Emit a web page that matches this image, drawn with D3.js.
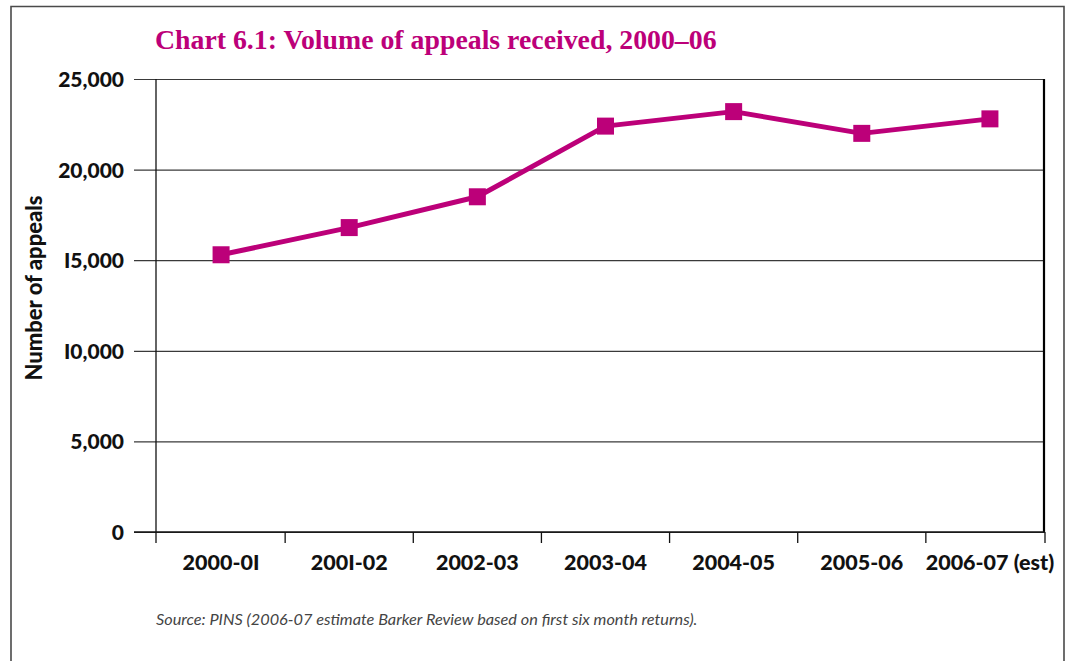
<!DOCTYPE html>
<html>
<head>
<meta charset="utf-8">
<script src="https://cdn.jsdelivr.net/npm/d3@7"></script>
<style>
  html, body { margin: 0; padding: 0; background: #fff; }
  svg { display: block; }
</style>
</head>
<body>
<svg id="chart" width="1070" height="661"></svg>
<script>
const categories = ["2000-01", "2001-02", "2002-03", "2003-04", "2004-05", "2005-06", "2006-07 (est)"];
const categoryLabels = ["2000-0I", "200I-02", "2002-03", "2003-04", "2004-05", "2005-06", "2006-07 (est)"];
const appeals = [15300, 16800, 18500, 22400, 23200, 22000, 22800];
const yTicks = [0, 5000, 10000, 15000, 20000, 25000];
const yTickLabels = ["0", "5,000", "I0,000", "I5,000", "20,000", "25,000"];
const titleText = "Chart 6.1: Volume of appeals received, 2000–06";
const yAxisTitle = "Number of appeals";
const sourceText = "Source: PINS (2006-07 estimate Barker Review based on first six month returns).";

const svg = d3.select("#chart");
const magenta = "#BC0079";
const m = { left: 156, right: 1045, top: 79, bottom: 532 };
const labelFont = "Lato, 'Open Sans', sans-serif";

// frame
svg.append("path")
  .attr("d", `M11,661 L11,6.5 L1064,6.5 L1064,661`)
  .attr("fill", "none").attr("stroke", "#4a4a4a").attr("stroke-width", 1.6);

// category band scale (the last band runs past the right axis, as in the original)
const x = d3.scaleBand().domain(categories).range([157, 1054]).paddingInner(0).paddingOuter(0);
const y = d3.scaleLinear().domain([0, 25000]).range([m.bottom, m.top]);

// gridlines + y ticks
const gy = svg.append("g").attr("transform", `translate(${m.right},0)`).call(
  d3.axisLeft(y).tickValues(yTicks).tickSize(m.right - 134).tickFormat(d => yTickLabels[yTicks.indexOf(d)])
);
gy.select(".domain").remove();
gy.selectAll(".tick line").attr("stroke", "#3a3a3a").attr("stroke-width", 1.2);
gy.selectAll(".tick text")
  .attr("x", -(m.right - 134) - 10)
  .attr("dy", "0.36em")
  .style("font-family", labelFont)
  .style("font-weight", "900")
  .style("font-size", "21px")
  .style("fill", "#111");

// left axis line
svg.append("line").attr("x1", m.left).attr("x2", m.left).attr("y1", m.top).attr("y2", m.bottom + 11)
  .attr("stroke", "#111").attr("stroke-width", 1.3);
// right axis line
svg.append("line").attr("x1", m.right - 1).attr("x2", m.right - 1).attr("y1", m.top).attr("y2", m.bottom)
  .attr("stroke", "#000").attr("stroke-width", 2.2);
// x axis baseline
svg.append("line").attr("x1", 134).attr("x2", m.right).attr("y1", m.bottom).attr("y2", m.bottom)
  .attr("stroke", "#111").attr("stroke-width", 1.4);

// x ticks: interior band boundaries plus the right axis end
const boundaries = categories.slice(1).map(c => x(c)).concat([m.right]);
svg.append("g").selectAll("line").data(boundaries).join("line")
  .attr("x1", d => d).attr("x2", d => d)
  .attr("y1", m.bottom).attr("y2", m.bottom + 11)
  .attr("stroke", "#111").attr("stroke-width", 1.3);

// x labels
svg.append("g").selectAll("text").data(categories).join("text")
  .attr("x", d => x(d) + x.bandwidth() / 2)
  .attr("y", 570)
  .attr("text-anchor", "middle")
  .style("font-family", labelFont)
  .style("font-weight", "900")
  .style("font-size", "21.5px")
  .style("fill", "#111")
  .text((d, i) => categoryLabels[i]);

// line
const line = d3.line().x((d, i) => x(categories[i]) + x.bandwidth() / 2).y(d => y(d));
svg.append("path").datum(appeals)
  .attr("d", line)
  .attr("fill", "none").attr("stroke", magenta).attr("stroke-width", 5).attr("stroke-linejoin", "round");

// markers
const ms = 17;
svg.append("g").selectAll("rect").data(appeals).join("rect")
  .attr("x", (d, i) => x(categories[i]) + x.bandwidth() / 2 - ms / 2)
  .attr("y", d => y(d) - ms / 2)
  .attr("width", ms).attr("height", ms)
  .attr("fill", magenta);

// title
svg.append("text")
  .attr("x", 155).attr("y", 49)
  .style("font-family", "'Liberation Serif', 'DejaVu Serif', serif")
  .style("font-weight", "700")
  .style("font-size", "27.8px")
  .style("fill", magenta)
  .text(titleText);

// y axis title
svg.append("text")
  .attr("transform", "translate(42,288) rotate(-90)")
  .attr("text-anchor", "middle")
  .style("font-family", labelFont)
  .style("font-weight", "900")
  .style("font-size", "22px")
  .style("fill", "#111")
  .text(yAxisTitle);

// source
svg.append("text")
  .attr("x", 156).attr("y", 625)
  .style("font-family", labelFont)
  .style("font-style", "italic")
  .style("font-weight", "400")
  .style("font-size", "16.3px")
  .style("fill", "#444")
  .text(sourceText);
</script>
</body>
</html>
